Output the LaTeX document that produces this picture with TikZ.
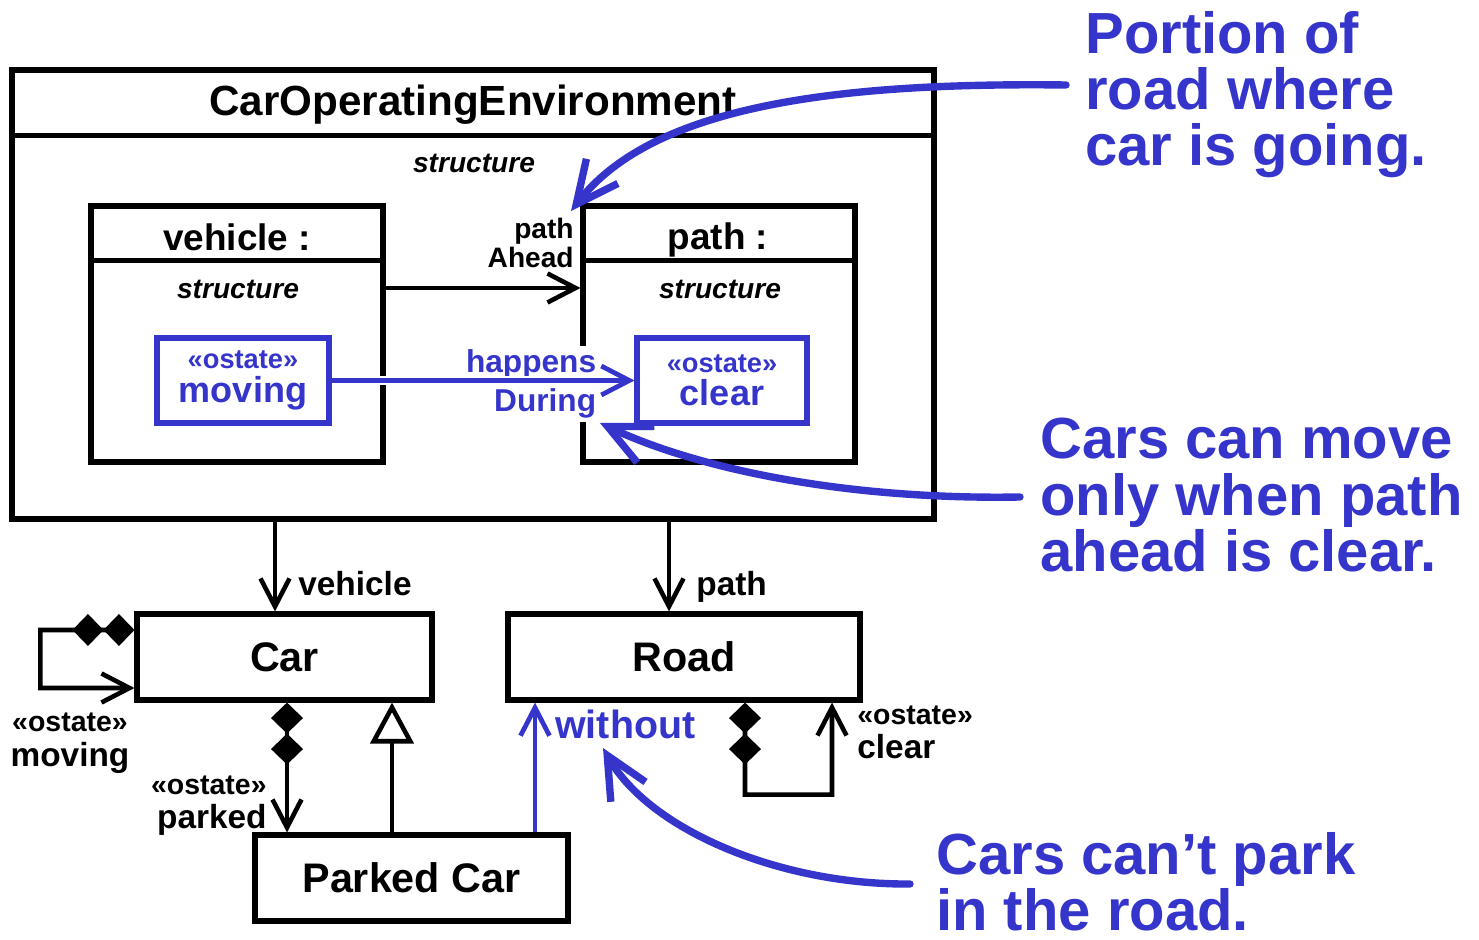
\documentclass[tikz,border=0pt]{standalone}
\usepackage{fontspec}
\setmainfont{Liberation Sans}
\usepackage{xcolor}
\definecolor{umlblue}{HTML}{3535CC}
\usepackage{tikz}
\usetikzlibrary{arrows.meta,positioning,calc}
\newcommand{\umlsize}[2]{\fontsize{#1pt}{#2pt}\selectfont}
\tikzset{
  umlbox/.style  ={rectangle, draw=black, line width=2.9pt, fill=white,
                   inner sep=0pt, font=\bfseries\umlsize{23.5}{26}},
  umlstate/.style={rectangle, draw=umlblue, line width=2.9pt, fill=white,
                   inner sep=0pt, align=center, text=umlblue,
                   font=\bfseries\umlsize{20.5}{19}},
  umlrule/.style ={line width=2.9pt, draw=black},
  umlarrow/.style={-{Straight Barb[length=5.6mm,width=5.8mm]}, line width=2.6pt, draw=black},
  umlcomp/.style ={{Diamond[length=6.2mm,width=6.4mm]Diamond[length=6.2mm,width=6.4mm]}-{Straight Barb[length=5.6mm,width=5.8mm]},
                   line width=2.6pt, draw=black},
  umlgen/.style  ={-{Triangle[open,length=8.2mm,width=8.6mm,fill=white]}, line width=2.6pt, draw=black},
  umlflow/.style ={-{Straight Barb[length=5.6mm,width=5.8mm]}, line width=2.7pt, draw=umlblue},
  umlcall/.style ={-{Straight Barb[length=8.4mm,width=8mm]}, line width=4.2pt, draw=umlblue,
                   line cap=round},
  umllbl/.style  ={inner sep=0pt, font=\bfseries\umlsize{19}{19.3}, align=left},
  umlnote/.style ={inner sep=0pt, font=\bfseries\umlsize{33}{32}, text=umlblue,
                   align=left, anchor=north west},
}

\begin{document}
\begin{tikzpicture}[x=0.2mm, y=-0.2mm]
  \useasboundingbox (0,0) rectangle (1479,940);
  % environment block
  \node[umlbox, minimum width=184.4mm, minimum height=89.8mm] (coe) at (473,294.5) {};
  \draw[umlrule] ([yshift=-13.6mm]coe.north west) -- ([yshift=-13.6mm]coe.north east);
  \node[umllbl, font=\bfseries\umlsize{24}{26}, anchor=base] (coetitle) at (473,116) {CarOperatingEnvironment};
  \node[umllbl, font=\bfseries\itshape\umlsize{16}{18}] (coestr) at (474,163) {structure};
  % parts
  \node[umlbox, minimum width=58.4mm, minimum height=51.2mm] (veh) at (237,334) {};
  \draw[umlrule] ([yshift=-11.4mm]veh.north west) -- ([yshift=-11.4mm]veh.north east);
  \node[umllbl, font=\bfseries\umlsize{21}{24}] (vehname) at (237,237) {vehicle :};
  \node[umllbl, font=\bfseries\itshape\umlsize{16}{18}] (vehstr) at (238,289) {structure};
  \node[umlbox, minimum width=54.4mm, minimum height=51.2mm] (pth) at (719,334) {};
  \draw[umlrule] ([yshift=-11.4mm]pth.north west) -- ([yshift=-11.4mm]pth.north east);
  \node[umllbl, font=\bfseries\umlsize{21}{24}, anchor=base] (pthname) at (718,250) {path :};
  \node[umllbl, font=\bfseries\itshape\umlsize{16}{18}] (pthstr) at (720,289) {structure};
  \node[umlstate, minimum width=34.4mm, minimum height=17mm] (mov) at (243,380.5)
    {{\umlsize{15.5}{17}«ostate»}\\moving};
  \node[umlstate, minimum width=34mm, minimum height=17mm] (clr) at (722,380.5)
    {{\umlsize{15.5}{17}«ostate»}\\clear};
  \draw[umlarrow] ([yshift=9.2mm]veh.east) -- ([yshift=9.2mm]pth.west);
  \node[umllbl, font=\bfseries\umlsize{16}{16}, align=right, anchor=east] (ahead) at (574,243) {path\\Ahead};
  \node[umllbl, font=\bfseries\umlsize{18}{20}, text=umlblue, fill=white, inner sep=2pt,
        anchor=south east] (hapA) at (600,383) {happens};
  \node[umllbl, font=\bfseries\umlsize{18}{20}, text=umlblue, fill=white, inner sep=2pt,
        anchor=north east] (hapB) at (600,385) {During};
  \draw[umlflow, preaction={draw=white, line width=5pt, -, shorten <=1mm, shorten >=1mm}]
    (mov.east) -- (clr.west);
  % classes
  \node[umlbox, minimum width=59mm, minimum height=17.2mm] (car) at (284.5,657) {Car};
  \node[umlbox, minimum width=70.4mm, minimum height=17.2mm] (road) at (684,657) {Road};
  \node[umlbox, minimum width=62.6mm, minimum height=17.2mm] (pkd) at (411.5,878) {Parked Car};
  \draw[umlarrow] ([xshift=-1.9mm]car.north |- coe.south) -- ([xshift=-1.9mm]car.north);
  \node[umllbl, anchor=base west] (vehrole) at (298,595) {vehicle};
  \draw[umlarrow] ([xshift=-3mm]road.north |- coe.south) -- ([xshift=-3mm]road.north);
  \node[umllbl, anchor=base west] (pthrole) at (696,595) {path};
  \draw[umlcomp] ([yshift=5.4mm]car.west) -- ++(-94,0) -- ++(0,58) -- ([yshift=-6.2mm]car.west);
  \node[umllbl, align=center, font=\bfseries\umlsize{19}{19.8}] (movrole) at (70,743) {{\umlsize{16.2}{18}«ostate»}\\moving};
  \draw[umlcomp] ([xshift=0.5mm]car.south) -- ([xshift=0.5mm]car.south |- pkd.north);
  \node[umllbl, align=right, anchor=east] (pkdrole) at (267,806) {{\umlsize{16.2}{18}«ostate»}\\parked};
  \draw[umlgen] ([xshift=-3.9mm]pkd.north) -- ([xshift=-3.9mm]pkd.north |- car.south);
  \draw[umlflow] ([xshift=24.7mm]pkd.north) -- ([xshift=24.7mm]pkd.north |- road.south);
  \node[umllbl, font=\bfseries\umlsize{22.4}{24}, text=umlblue, anchor=base west] (without) at (555,738) {without};
  \draw[umlcomp] ([xshift=12.2mm]road.south) -- ++(0,92) -- ++(87,0) -- ([xshift=29.6mm]road.south);
  \node[umllbl, anchor=west] (clrrole) at (857,732) {{\umlsize{16.2}{18}«ostate»}\\clear};
  % callouts
  \node[umlnote] (noteA) at (1085,11) {Portion of\\road where\\car is going.};
  \node[umlnote] (noteB) at (1040,418) {Cars can move\\only when path\\ahead is clear.};
  \node[umlnote] (noteC) at (936,832) {Cars can’t park\\in the road.};
  \coordinate (tailA) at (1066,85);
  \coordinate (tipA) at (571,211);
  \coordinate (tailB) at (1020,497);
  \coordinate (tipB) at (600,423);
  \coordinate (tailC) at (910,884);
  \coordinate (tipC) at (603,748);
  \draw[umlcall] (tailA) .. controls (820,82) and (650,110) .. (tipA);
  \draw[umlcall] (tailB) .. controls (850,500) and (700,470) .. (tipB);
  \draw[umlcall] (tailC) .. controls (780,885) and (650,830) .. (tipC);
\end{tikzpicture}
\end{document}
